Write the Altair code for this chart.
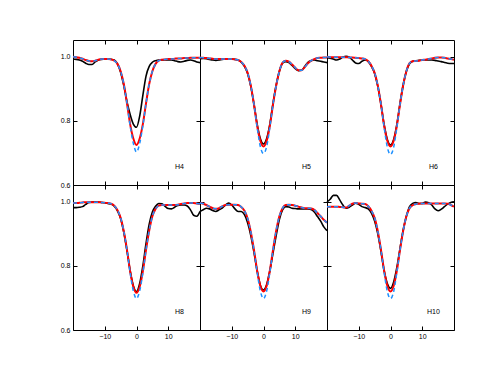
import altair as alt
import pandas as pd

# velocity grid (km/s)
X = list(range(-20, 21))

PANEL_NAMES = ["H4", "H5", "H6", "H8", "H9", "H10"]

h4_obs = [0.993, 0.992, 0.99, 0.986, 0.98, 0.976, 0.976, 0.984, 0.99, 0.992, 0.993, 0.993, 0.992, 0.99, 0.978, 0.952, 0.91, 0.86, 0.82, 0.79, 0.78,
          0.815, 0.88, 0.94, 0.97, 0.983, 0.988, 0.99, 0.99, 0.99, 0.99, 0.99, 0.988, 0.985, 0.984, 0.986, 0.989, 0.99, 0.988, 0.984, 0.982]
h4_mod = [1.0, 0.999, 0.997, 0.994, 0.99, 0.987, 0.986, 0.988, 0.991, 0.993, 0.993, 0.993, 0.992, 0.988, 0.978, 0.955, 0.915, 0.855, 0.79, 0.745, 0.725,
          0.745, 0.79, 0.855, 0.915, 0.955, 0.978, 0.988, 0.991, 0.992, 0.993, 0.993, 0.994, 0.995, 0.995, 0.996, 0.996, 0.997, 0.997, 0.997, 0.997]
h4_alt = [1.0, 0.999, 0.997, 0.994, 0.99, 0.987, 0.986, 0.988, 0.991, 0.993, 0.993, 0.993, 0.992, 0.988, 0.978, 0.955, 0.915, 0.855, 0.785, 0.73, 0.703,
          0.73, 0.785, 0.855, 0.915, 0.955, 0.978, 0.988, 0.991, 0.992, 0.993, 0.993, 0.994, 0.995, 0.995, 0.996, 0.996, 0.997, 0.997, 0.997, 0.997]

h5_obs = [0.994, 0.995, 0.994, 0.992, 0.99, 0.989, 0.99, 0.992, 0.993, 0.993, 0.993, 0.992, 0.99, 0.983, 0.97, 0.948, 0.908, 0.852, 0.79, 0.745, 0.728,
          0.745, 0.79, 0.855, 0.912, 0.955, 0.98, 0.985, 0.982, 0.973, 0.963, 0.957, 0.958, 0.97, 0.983, 0.988, 0.99, 0.988, 0.986, 0.984, 0.982]
h5_mod = [0.998, 0.997, 0.996, 0.995, 0.994, 0.993, 0.993, 0.993, 0.993, 0.993, 0.993, 0.992, 0.99, 0.984, 0.972, 0.95, 0.91, 0.852, 0.785, 0.738, 0.72,
          0.738, 0.785, 0.852, 0.91, 0.955, 0.982, 0.988, 0.985, 0.976, 0.966, 0.958, 0.958, 0.968, 0.98, 0.988, 0.993, 0.996, 0.997, 0.998, 0.998]
h5_alt = [0.998, 0.997, 0.996, 0.995, 0.994, 0.993, 0.993, 0.993, 0.993, 0.993, 0.993, 0.992, 0.99, 0.984, 0.972, 0.95, 0.91, 0.852, 0.78, 0.72, 0.698,
          0.72, 0.78, 0.852, 0.91, 0.955, 0.982, 0.988, 0.985, 0.976, 0.966, 0.958, 0.958, 0.968, 0.98, 0.988, 0.993, 0.996, 0.997, 0.998, 0.998]

h6_obs = [0.997, 0.996, 0.993, 0.99, 0.993, 0.999, 1.002, 0.999, 0.99, 0.981, 0.979, 0.986, 0.99, 0.985, 0.97, 0.948, 0.908, 0.852, 0.788, 0.742, 0.725,
          0.742, 0.788, 0.855, 0.912, 0.955, 0.978, 0.986, 0.988, 0.989, 0.99, 0.99, 0.99, 0.99, 0.989, 0.987, 0.985, 0.982, 0.98, 0.979, 0.979]
h6_mod = [1.0, 0.999, 0.999, 0.999, 0.999, 0.999, 0.999, 0.998, 0.998, 0.997, 0.996, 0.995, 0.993, 0.986, 0.972, 0.95, 0.91, 0.852, 0.785, 0.738, 0.72,
          0.738, 0.785, 0.852, 0.912, 0.955, 0.98, 0.986, 0.987, 0.988, 0.99, 0.991, 0.993, 0.995, 0.997, 0.998, 0.998, 0.997, 0.995, 0.993, 0.991]
h6_alt = [1.0, 0.999, 0.999, 0.999, 0.999, 0.999, 0.999, 0.998, 0.998, 0.997, 0.996, 0.995, 0.993, 0.986, 0.972, 0.95, 0.91, 0.852, 0.78, 0.718, 0.695,
          0.718, 0.78, 0.852, 0.912, 0.955, 0.98, 0.986, 0.987, 0.988, 0.99, 0.991, 0.993, 0.995, 0.997, 0.998, 0.998, 0.997, 0.995, 0.993, 0.991]

h8_obs = [0.982, 0.982, 0.983, 0.985, 0.992, 0.998, 0.999, 1.0, 0.999, 0.998, 0.997, 0.995, 0.993, 0.986, 0.972, 0.948, 0.905, 0.848, 0.785, 0.738, 0.72,
          0.745, 0.8, 0.87, 0.93, 0.968, 0.986, 0.995, 0.994, 0.986, 0.979, 0.978, 0.983, 0.989, 0.99, 0.99, 0.987, 0.975, 0.958, 0.955, 0.97]
h8_mod = [0.996, 0.996, 0.997, 0.998, 0.999, 0.999, 0.999, 0.999, 0.999, 0.998, 0.997, 0.996, 0.994, 0.988, 0.974, 0.95, 0.908, 0.85, 0.783, 0.735, 0.716,
          0.735, 0.783, 0.85, 0.91, 0.955, 0.978, 0.988, 0.99, 0.99, 0.99, 0.99, 0.99, 0.991, 0.993, 0.995, 0.996, 0.996, 0.996, 0.995, 0.993]
h8_alt = [0.996, 0.996, 0.997, 0.998, 0.999, 0.999, 0.999, 0.999, 0.999, 0.998, 0.997, 0.996, 0.994, 0.988, 0.974, 0.95, 0.908, 0.85, 0.778, 0.722, 0.698,
          0.722, 0.778, 0.85, 0.91, 0.955, 0.978, 0.988, 0.99, 0.99, 0.99, 0.99, 0.99, 0.991, 0.993, 0.995, 0.996, 0.996, 0.996, 0.995, 0.993]

h9_obs = [0.97, 0.975, 0.98, 0.978, 0.973, 0.97, 0.975, 0.98, 0.99, 0.996, 0.99, 0.978, 0.97, 0.97, 0.96, 0.935, 0.895, 0.842, 0.785, 0.74, 0.725,
          0.742, 0.785, 0.84, 0.895, 0.945, 0.975, 0.985, 0.984, 0.98, 0.979, 0.978, 0.978, 0.978, 0.978, 0.976, 0.968, 0.954, 0.94, 0.922, 0.91]
h9_mod = [0.996, 0.994, 0.99, 0.985, 0.98, 0.978, 0.98, 0.986, 0.99, 0.991, 0.991, 0.991, 0.99, 0.984, 0.972, 0.948, 0.906, 0.85, 0.785, 0.738, 0.72,
          0.738, 0.785, 0.85, 0.91, 0.955, 0.98, 0.99, 0.991, 0.99, 0.988, 0.985, 0.982, 0.98, 0.98, 0.979, 0.975, 0.965, 0.955, 0.944, 0.935]
h9_alt = [0.996, 0.994, 0.99, 0.985, 0.98, 0.978, 0.98, 0.986, 0.99, 0.991, 0.991, 0.991, 0.99, 0.984, 0.972, 0.948, 0.906, 0.85, 0.78, 0.722, 0.698,
          0.722, 0.78, 0.85, 0.91, 0.955, 0.98, 0.99, 0.991, 0.99, 0.988, 0.985, 0.982, 0.98, 0.98, 0.979, 0.975, 0.965, 0.955, 0.944, 0.935]

h10_obs = [1.0, 1.008, 1.02, 1.02, 1.006, 0.99, 0.98, 0.983, 0.99, 0.996, 0.992, 0.985, 0.982, 0.978, 0.965, 0.94, 0.9, 0.845, 0.785, 0.745, 0.73,
           0.75, 0.795, 0.855, 0.912, 0.955, 0.985, 0.995, 0.998, 0.995, 0.995, 0.999, 0.997, 0.99, 0.978, 0.972, 0.977, 0.985, 0.993, 0.998, 1.0]
h10_mod = [0.985, 0.985, 0.985, 0.985, 0.984, 0.983, 0.982, 0.988, 0.994, 0.996, 0.995, 0.994, 0.993, 0.986, 0.972, 0.95, 0.908, 0.85, 0.785, 0.738, 0.72,
           0.738, 0.785, 0.85, 0.91, 0.955, 0.98, 0.99, 0.993, 0.994, 0.995, 0.995, 0.995, 0.995, 0.995, 0.995, 0.995, 0.995, 0.994, 0.99, 0.985]
h10_alt = [0.985, 0.985, 0.985, 0.985, 0.984, 0.983, 0.982, 0.988, 0.994, 0.996, 0.995, 0.994, 0.993, 0.986, 0.972, 0.95, 0.908, 0.85, 0.78, 0.72, 0.698,
           0.72, 0.78, 0.85, 0.91, 0.955, 0.98, 0.99, 0.993, 0.994, 0.995, 0.995, 0.995, 0.995, 0.995, 0.995, 0.995, 0.995, 0.994, 0.99, 0.985]

X_TICKS = [-10, 0, 10]
Y_TICKS = [0.6, 0.8, 1.0]
X_DOMAIN = [-20, 20]
Y_DOMAIN = [0.6, 1.0525]
LABEL_POS = [13.5, 0.655]

SERIES = {
    "H4": (h4_obs, h4_mod, h4_alt),
    "H5": (h5_obs, h5_mod, h5_alt),
    "H6": (h6_obs, h6_mod, h6_alt),
    "H8": (h8_obs, h8_mod, h8_alt),
    "H9": (h9_obs, h9_mod, h9_alt),
    "H10": (h10_obs, h10_mod, h10_alt),
}

FONT = "Liberation Sans"
W, H = 127, 145


def panel(name, row, col):
    obs, mod, alt_m = SERIES[name]
    df = pd.DataFrame({"x": X, "obs": obs, "mod": mod, "alt": alt_m})
    xs = alt.Scale(domain=X_DOMAIN, nice=False, zero=False)
    ys = alt.Scale(domain=Y_DOMAIN, nice=False, zero=False)
    common = dict(tickSize=4, offset=-4, domain=False, grid=False, title=None,
                  tickColor="black", labelColor="black", labelFont=FONT,
                  labelFontSize=7)
    x_bottom = alt.Axis(orient="bottom", values=X_TICKS, labels=(row == 1),
                        labelPadding=2, **common)
    x_top = alt.Axis(orient="top", values=X_TICKS, labels=False, **common)
    y_left = alt.Axis(orient="left", values=Y_TICKS, labels=(col == 0), format=".1f",
                      labelPadding=3, **common)
    y_right = alt.Axis(orient="right", values=Y_TICKS, labels=False, **common)

    base = alt.Chart(df)
    black = base.mark_line(color="black", strokeWidth=1.6, interpolate="monotone").encode(
        x=alt.X("x:Q", scale=xs, axis=x_bottom),
        y=alt.Y("obs:Q", scale=ys, axis=y_left),
    )
    red = base.mark_line(color="#ff0000", strokeWidth=2, interpolate="monotone").encode(
        x=alt.X("x:Q", scale=xs, axis=x_top),
        y=alt.Y("mod:Q", scale=ys, axis=y_right),
    )
    blue = base.mark_line(color="#1e90ff", strokeWidth=1.5, strokeDash=[4, 3],
                          interpolate="monotone").encode(
        x=alt.X("x:Q", scale=xs, axis=None),
        y=alt.Y("alt:Q", scale=ys, axis=None),
    )
    label = alt.Chart(pd.DataFrame({"label": [name]})).mark_text(
        font=FONT, fontSize=7, color="black", align="center", baseline="middle"
    ).encode(
        x=alt.XDatum(LABEL_POS[0], scale=xs, axis=None),
        y=alt.YDatum(LABEL_POS[1], scale=ys, axis=None),
        text="label:N",
    )
    return alt.layer(black, red, blue, label).properties(width=W, height=H)


cells = [panel(PANEL_NAMES[r * 3 + c], r, c) for r in range(2) for c in range(3)]

chart = alt.concat(*cells, columns=3, spacing=0, bounds="flush").properties(
    padding={"left": 51, "top": 31, "right": 5, "bottom": 5},
    background="white",
).configure_view(stroke="black", strokeWidth=1)

chart.save("out.html", embed_options={"renderer": "svg", "actions": False})
